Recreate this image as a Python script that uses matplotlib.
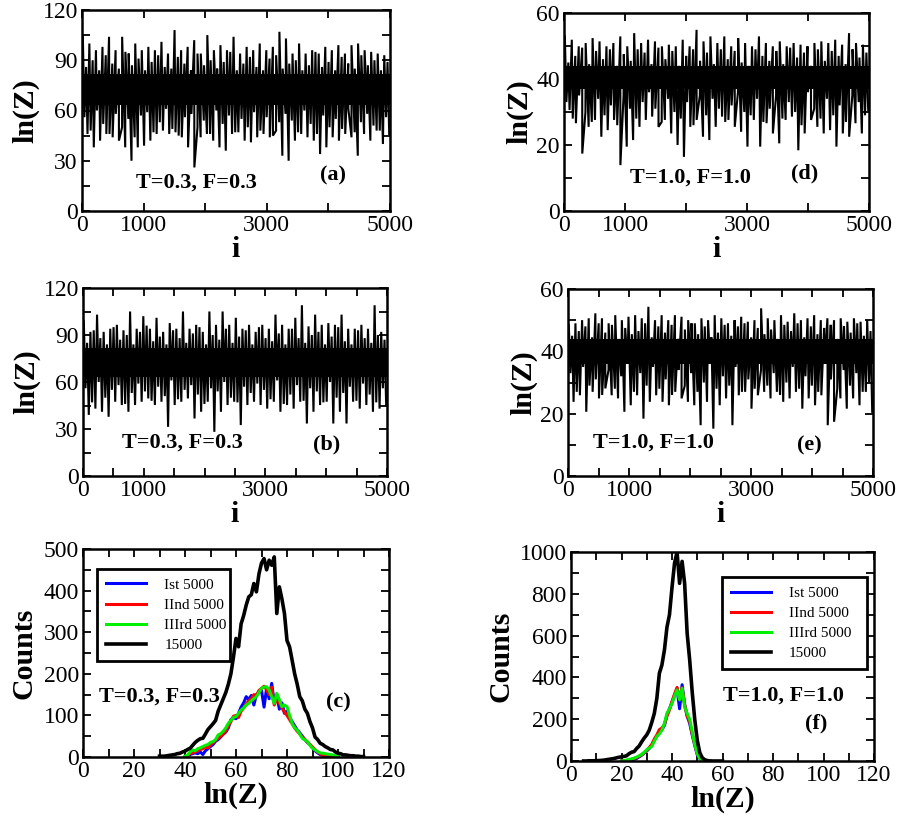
import numpy as np
import matplotlib
matplotlib.use("Agg")
import matplotlib.pyplot as plt
from matplotlib.ticker import MultipleLocator, FixedLocator, FixedFormatter

plt.rcParams['font.family'] = 'serif'
plt.rcParams['font.serif'] = ['Liberation Serif', 'DejaVu Serif']

# ---------------- time series data (spike tips) -------------
# tall spikes (tips) and the denser, shorter spikes between them
a_hi = [105,100,96,98,104,96,104,94,100,96,98,96,101,94,108,96,98,102,94,105,96,99,96,104,
        94,98,96,100,96,98,107,103,94,100,94,96,94,98,96,99,94,99,100,96,95,94,93]
a_hi2 = [86,90,84,93,88,85,95,87,91,84,89,93,86,85,92,88,84,94,87,90,85,89,95,84,88,92,86,84,
         91,93,85,88,90,84,87,95,86,89,84,92,88,85,93,87,90,84,89]
a_lo = [46,38,42,46,44,42,38,30,38,39,42,46,48,46,47,44,38,26,44,46,42,38,36,46,47,42,41,
        44,46,44,48,33,30,42,46,44,42,34,38,44,42,46,44,33,46,42,48,40,46]
a_lo2 = [56,48,60,52,46,58,50,55,44,57,59,47,53,61,49,45,56,58,50,54,46,60,52,57,47,55,50,59,
         48,56,45,53,58,54,47,60,52,46,57,50,55,49,61,47,53,58,51,48,56]
a_core = [63, 82]

b_hi = [98.7,92,103,92,94,96.5,93,105,94,102,94,101,92,97.6,94,105,94,96.5,92,105,96.5,105,
        96.5,101,94,96.5,92,96.5,94,103,96.5,94,101,109,95.5,103,96.5,97.6,96.5,103,94,94,
        96.5,94,109,92]
b_hi2 = [85,93,88,84,95,87,90,84,92,96,86,89,84,93,88,85,91,95,84,90,87,94,85,89,93,84,95,88,
         86,91,84,94,88,85,90,92,84,89,95,86,84,93,88,85,90,87]
b_lo = [39,43,41,37.8,47.4,45.3,41,45.3,47.4,49.5,45.3,47.4,31.4,45.3,47.4,49.5,36.7,41,47.4,
        28.2,41,45.3,47.4,32.5,45.3,47.4,45.3,43,47.4,41,45.3,43,47.4,33.5,41,45.3,47.4,33.5,
        41,33.5,47.4,43,45.3,41,43,45.3]
b_lo2 = [56,47,60,50,55,58,46,53,59,54,48,57,51,61,49,55,58,52,46,56,54,60,50,47,57,53,59,55,
         49,61,46,52,58,48,56,54,47,60,50,53,57,48,59,52,47,56]
b_core = [63, 82]

d_hi = [52.9,51.9,49.9,50.9,52.4,51.4,49.9,50.9,52.9,49.9,53.9,50.9,51.9,51.4,49.9,50.4,49.9,
        51.9,49.9,54.9,51.4,52.9,50.9,52.9,49.9,52.4,50.9,49.9,52.9,50.9,49.9,51.4,49.9,50.9,
        50.4,49.9,50.9,51.4,50.9,51.9,50.4,53.9,50.9,50.4]
d_hi2 = [45,47,49.5,44.5,48.5,46,49,44,47.5,45.5,49,48,44.5,49.5,46,48.5,44,47,49,45.5,48,44.5,
         49,46,48.5,45,44,49,47,45.5,48.5,44.5,49.5,46.5,48,44,49,45.5,48.5,47,44.5,49,46.5,48]
d_lo = [30.6,26.6,17.4,25.5,27.6,22.5,24.5,27.6,13.9,19.5,21.5,25.5,27.6,28.6,25.5,27.6,23.5,
        20.0,16.4,25.5,27.6,22.5,21.5,25.5,28.6,27.6,25.5,24.0,19.5,27.6,19.5,26.6,23.5,20.5,
        27.6,28.6,18.4,23.5,27.6,25.5,23.5,24.5,19.5,23.5,22.5,26.6,23.5,30.6]
d_lo2 = [33,28,35,30,27,34,29,32,26,35,31,28,33,36,31,27,34,30,28,33,26,35,29,34,31,27,32,36,
         30,29,34,27,31,35,28,33,30,26,36,31,28,34,29,32,27,35,33,29]
d_core = [37, 44]

e_hi = [48.4,49,50,50.6,52.2,50.6,49,51.6,50,51.1,51.6,50.6,54.3,50,51.6,50,51.6,51.1,50,49,
        50.6,50,51.6,50.6,49,50,51.1,49.5,50,53.8,50.6,50,51.6,49.5,52.2,50,50.6,51.6,50,50.6,
        50,50.6,49.5,50.6,49.5,50]
e_hi2 = [45,46.5,48,44.5,49,46,48.5,44,47.5,45.5,46.5,49,44.5,48,46,48.5,44,47,49,45.5,48,44.5,
         46,48.5,45,48,49,44.5,47.5,45.5,47,44,48.5,46.5,49,44.5,48,45.5,47.5,48.5,44,48,46,49,
         45,46.5]
e_lo = [23.8,25.9,20.6,27,24.9,28.1,25.9,24.9,20.6,22.7,25.9,18.4,23.8,25.9,23.8,22.7,27,24.9,
        23.8,22.7,16.3,23.8,15.2,22.7,24.9,16.3,25.9,27,21.6,25.9,27,24.9,27,23.8,24.9,27,21.6,
        24.9,22.7,25.9,16.3,17.4,24.9,21.6,24.9,22.7,27,20.6]
e_lo2 = [33,27,35,29,31,26,34,28,32,36,27,33,29,35,28,31,26,34,29,33,27,30,36,28,32,29,35,27,
         31,28,34,29,33,26,30,35,28,32,29,27,36,31,28,34,29,33,27,30]
e_core = [36, 44]

N_STEPS = 5000

# ---------------- histogram data -------------
c_x_black = list(range(30, 111))
c_black = [2,2,2,3,4,5,6,8,9,12,
           14,18,21,28,35,40,44,45,55,66,
           73,80,88,110,125,140,155,175,200,240,
           285,265,320,340,365,385,390,417,397,440,
           466,477,450,473,461,481,345,409,380,345,
           280,265,233,200,175,145,135,115,105,85,
           70,48,42,33,30,25,22,18,17,12,
           9,8,5,5,4,3,3,2,2,1,
           1]
c_x_col = list(range(40, 101))
c_blue = [0,2,6,8,10,8,12,6,15,20,
          25,30,38,42,48,55,60,70,90,95,
          92,105,120,130,145,138,148,125,150,155,
          160,120,165,140,177,130,150,115,130,105,
          110,95,85,75,65,58,50,42,35,30,
          22,15,10,6,4,3,2,1,1,0,
          0]
c_red = [0,3,8,10,12,15,18,20,24,22,
         30,34,40,45,50,55,62,75,85,98,
         100,95,110,118,128,135,140,150,148,160,
         165,170,162,150,168,125,140,130,118,108,
         100,90,80,70,62,55,48,42,36,30,
         24,18,12,8,4,6,5,4,2,1,
         0]
c_green = [2,5,12,17,15,20,22,25,28,30,
           35,37,42,53,56,62,70,81,88,95,
           97,105,113,118,125,129,135,140,145,155,
           165,168,169,161,145,129,153,138,121,125,
           121,100,81,70,65,55,45,41,37,28,
           21,17,13,10,9,8,7,6,5,3,
           2]

f_x_black = list(range(5, 61))
f_black = [0,0,1,1,1,2,2,3,4,6,
           8,10,12,15,18,20,22,25,35,42,
           45,60,72,92,110,125,148,185,228,300,
           420,459,531,640,700,830,946,1000,850,955,
           850,611,484,330,200,100,40,15,6,2,
           0,0,0,0,0,0]
f_x_col = list(range(20, 56))
f_blue = [0,1,2,4,6,8,12,20,28,38,
          48,60,75,100,120,140,150,170,220,250,
          280,315,345,250,365,270,215,180,125,75,
          30,12,4,1,0,0]
f_red = [0,1,3,5,8,12,16,22,30,40,
         50,65,80,105,125,150,158,175,215,245,
         285,320,352,300,350,270,215,190,130,80,
         35,15,5,1,0,0]
f_green = [0,2,4,8,10,14,19,25,32,42,
           54,62,70,95,118,130,148,180,228,250,
           276,310,340,292,348,260,228,200,140,80,
           35,12,4,2,0,0]

legend_labels = ['Ist 5000', 'IInd 5000', 'IIIrd 5000', '15000']

# ---------------- figure -------------
W, H = 900, 825
fig = plt.figure(figsize=(9, 8.25), dpi=100)

def add_ax(l, t, r, b):
    return fig.add_axes([l / W, 1 - b / H, (r - l) / W, (b - t) / H])

TICK_FS = 17
LAB_FS = 21.5
ANN_FS = 16

def style(ax):
    for s in ax.spines.values():
        s.set_linewidth(1.8)
    ax.tick_params(which='both', direction='in', top=True, right=True,
                   length=6, width=1.3, labelsize=TICK_FS, pad=3)

def interleave(p, q):
    out = []
    for k in range(max(len(p), len(q))):
        if k < len(p):
            out.append(p[k])
        if k < len(q):
            out.append(q[k])
    return out

def series_panel(ax, hi, hi2, lo, lo2, core, ymax, ystep, ylab_step, xstep, label, tag, txy, tagxy):
    up = interleave(hi, hi2)
    dn = interleave(lo2, lo)
    su = N_STEPS / len(up)
    sd = N_STEPS / len(dn)
    pts = [((k + 0.25) * su, v) for k, v in enumerate(up)] + \
          [((k + 0.75) * sd, v) for k, v in enumerate(dn)]
    pts.sort()
    xs = [p[0] for p in pts]
    ys = [p[1] for p in pts]
    ax.fill_between([0, N_STEPS], [core[0]] * 2, [core[1]] * 2, color='black', lw=0)
    ax.plot(xs, ys, color='black', lw=1.5, solid_joinstyle='miter')
    ax.set_xlim(0, N_STEPS)
    ax.set_ylim(0, ymax)
    style(ax)
    ax.xaxis.set_major_locator(FixedLocator(list(range(0, N_STEPS + 1, xstep))))
    ax.xaxis.set_major_formatter(FixedFormatter(
        [str(v) if v in (0, 1000, 3000, 5000) else '' for v in range(0, N_STEPS + 1, xstep)]))
    ax.yaxis.set_major_locator(MultipleLocator(ylab_step))
    ax.yaxis.set_minor_locator(MultipleLocator(ystep))
    ax.set_xlabel('i', fontsize=LAB_FS, fontweight='bold', labelpad=0)
    ax.set_ylabel('ln(Z)', fontsize=LAB_FS, fontweight='bold', labelpad=2)
    ax.text(txy[0], txy[1], label, transform=ax.transAxes, fontsize=ANN_FS,
            fontweight='bold', ha='center', va='center')
    ax.text(tagxy[0], tagxy[1], tag, transform=ax.transAxes, fontsize=ANN_FS,
            fontweight='bold', ha='center', va='center')

ax_a = add_ax(82, 10, 390, 211)
series_panel(ax_a, a_hi, a_hi2, a_lo, a_lo2, a_core, 120, 15, 30, 1000, 'T=0.3, F=0.3', '(a)',
             (0.373, 0.14), (0.815, 0.175))
ax_b = add_ax(83, 288, 387, 476)
series_panel(ax_b, b_hi, b_hi2, b_lo, b_lo2, b_core, 120, 15, 30, 500, 'T=0.3, F=0.3', '(b)',
             (0.326, 0.18), (0.80, 0.165))
ax_d = add_ax(564, 13, 869, 211)
series_panel(ax_d, d_hi, d_hi2, d_lo, d_lo2, d_core, 60, 10, 20, 1000, 'T=1.0, F=1.0', '(d)',
             (0.416, 0.17), (0.79, 0.19))
ax_e = add_ax(568, 289, 873, 476)
series_panel(ax_e, e_hi, e_hi2, e_lo, e_lo2, e_core, 60, 10, 20, 500, 'T=1.0, F=1.0', '(e)',
             (0.28, 0.18), (0.79, 0.165))

def hist_panel(ax, xb, black, xc, blue, red, green, ymax, ymaj, ymin, label, tag, txy, tagxy, leg_box):
    ax.plot(xc, blue, color='#0000ff', lw=2.2, label=legend_labels[0])
    ax.plot(xc, red, color='#ff0000', lw=2.2, label=legend_labels[1])
    ax.plot(xc, green, color='#00ee00', lw=2.2, label=legend_labels[2])
    ax.plot(xb, black, color='black', lw=2.6, label=legend_labels[3])
    ax.set_xlim(0, 120)
    ax.set_ylim(0, ymax)
    style(ax)
    ax.xaxis.set_major_locator(MultipleLocator(20))
    ax.xaxis.set_minor_locator(MultipleLocator(10))
    ax.yaxis.set_major_locator(MultipleLocator(ymaj))
    ax.yaxis.set_minor_locator(MultipleLocator(ymin))
    ax.set_xlabel('ln(Z)', fontsize=LAB_FS, fontweight='bold', labelpad=0)
    ax.set_ylabel('Counts', fontsize=LAB_FS, fontweight='bold', labelpad=4)
    ax.text(txy[0], txy[1], label, transform=ax.transAxes, fontsize=ANN_FS,
            fontweight='bold', ha='center', va='center')
    ax.text(tagxy[0], tagxy[1], tag, transform=ax.transAxes, fontsize=ANN_FS,
            fontweight='bold', ha='center', va='center')
    leg = ax.legend(loc='upper left', bbox_to_anchor=leg_box, mode='expand',
                    fontsize=11, frameon=True, fancybox=False, framealpha=1,
                    edgecolor='black', handlelength=2.6, handletextpad=1.2,
                    labelspacing=0.42, borderpad=0.6, borderaxespad=0)
    leg.get_frame().set_linewidth(2.0)

ax_c = add_ax(83, 549, 389, 757)
hist_panel(ax_c, c_x_black, c_black, c_x_col, c_blue, c_red, c_green, 500, 100, 50,
           'T=0.3, F=0.3', '(c)', (0.25, 0.29), (0.835, 0.26), (0.046, 0.48, 0.434, 0.424))
ax_f = add_ax(571, 552, 874, 761)
hist_panel(ax_f, f_x_black, f_black, f_x_col, f_blue, f_red, f_green, 1000, 200, 100,
           'T=1.0, F=1.0', '(f)', (0.70, 0.315), (0.81, 0.18), (0.498, 0.435, 0.479, 0.445))

fig.savefig('out.png', dpi=100)
